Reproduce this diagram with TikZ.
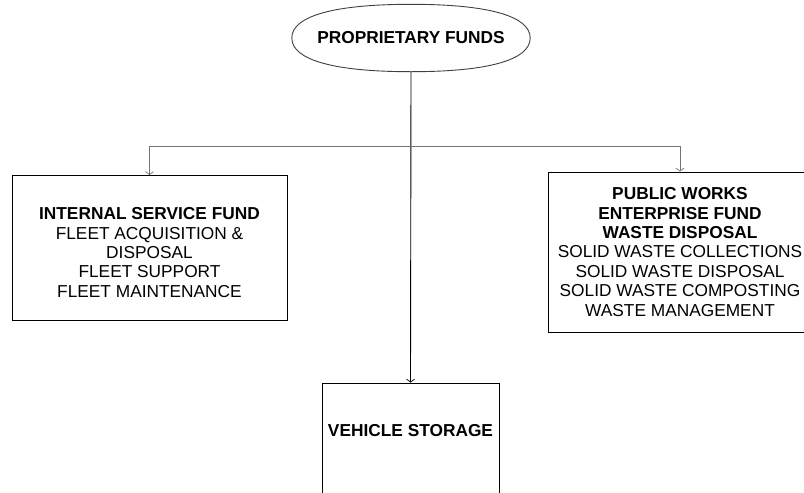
\documentclass[tikz,border=0pt]{standalone}
\usepackage{fontspec}
\setmainfont{Liberation Sans}
\usetikzlibrary{arrows.meta}
\begin{document}
\begin{tikzpicture}[x=1pt,y=-1pt,
  every node/.style={font=\fontsize{17.3}{19.4}\selectfont, align=center, inner sep=0pt},
  ovalbox/.style={rectangle, minimum width=238pt, minimum height=67pt},
  ovalline/.style={draw=black!75, line width=0.9pt},
  boxnode/.style={draw=black, line width=0.9pt, rectangle},
  mainline/.style={draw=black, line width=0.9pt},
  branchline/.style={draw=black!55, line width=0.9pt},
  tip/.style={-{Straight Barb[length=3pt,width=8pt,line width=0.7pt]}}
]
\useasboundingbox (0,0) rectangle (804,493);
\clip (0,0) rectangle (804,493);
\fill[white] (0,0) rectangle (804,493);

\node[ovalbox] (top) at (411,38) {\textbf{PROPRIETARY FUNDS}};
\draw[ovalline] (top.west)
  .. controls +(0,-22) and +(-77,0) .. (top.north)
  .. controls +(77,0) and +(0,-22) .. (top.east)
  .. controls +(0,22) and +(77,0) .. (top.south)
  .. controls +(-77,0) and +(0,22) .. (top.west) -- cycle;

\node[boxnode, minimum width=275pt, minimum height=145pt] (isf) at (149.5,248)
  {\rule{0pt}{21pt}\textbf{INTERNAL SERVICE FUND}\\FLEET ACQUISITION \&\\DISPOSAL\\FLEET SUPPORT\\FLEET MAINTENANCE};

\node[boxnode, minimum width=264pt, minimum height=160pt] (pw) at (680,252)
  {\textbf{PUBLIC WORKS}\\\textbf{ENTERPRISE FUND}\\\textbf{WASTE DISPOSAL}\\SOLID WASTE COLLECTIONS\\SOLID WASTE DISPOSAL\\SOLID WASTE COMPOSTING\\WASTE MANAGEMENT};

\node[boxnode, minimum width=177pt, minimum height=130pt, text depth=36pt] (veh) at (410.5,448)
  {\textbf{VEHICLE STORAGE}};

\coordinate (j) at (411,146.5);

\draw[mainline, tip] (top.south) -- (veh.north);
\draw[branchline, tip] (j) -| (isf.north);
\draw[branchline, tip] (j) -| (pw.north);
\end{tikzpicture}
\end{document}
